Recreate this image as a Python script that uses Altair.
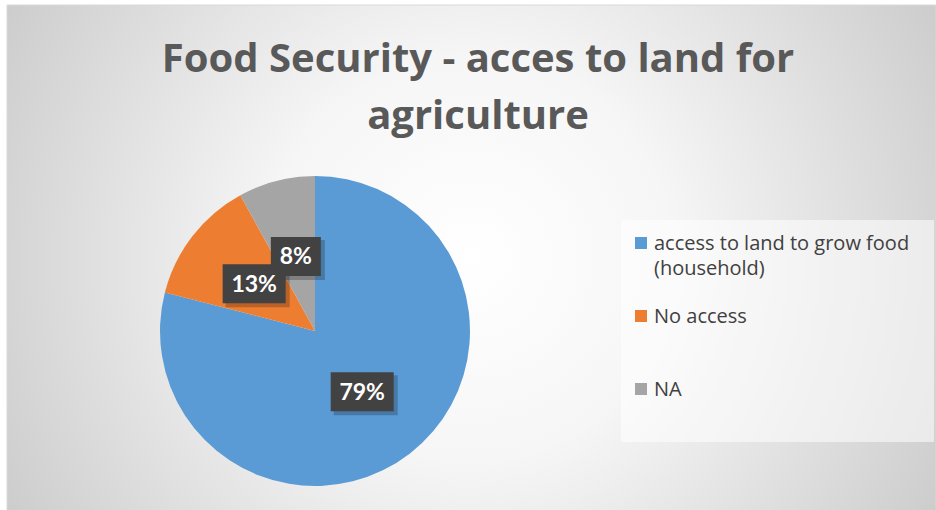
import altair as alt
import pandas as pd

# ---- data ----
categories = ["access to land to grow food (household)", "No access", "NA"]
legend_labels = ["access to land to grow food\n(household)", "No access", "NA"]
shares = [79, 13, 8]
pct_labels = ["79%", "13%", "8%"]
colors = ["#5B9BD5", "#ED7D31", "#A5A5A5"]
title_lines = ["Food Security - acces to land for", "agriculture"]

# ---- layout constants ----
W, H = 936, 510
CX, CY, R = 315, 331, 155
LR = 77  # label radius
FONT = "Lato"
TFONT = "Open Sans"

df = pd.DataFrame({
    "category": categories,
    "legend": legend_labels,
    "share": shares,
    "label": pct_labels,
    "order": list(range(len(categories))),
})
title_df = pd.DataFrame({"line": title_lines, "row": list(range(len(title_lines)))})
dummy = pd.DataFrame({"a": [0]})

color_scale = alt.Scale(domain=categories, range=colors)

# background with radial gradient
bg = alt.Chart(dummy).mark_rect(
    color=alt.Gradient(
        gradient="radial",
        stops=[alt.GradientStop(color="#ffffff", offset=0),
               alt.GradientStop(color="#f6f6f6", offset=0.3),
               alt.GradientStop(color="#bbbbbb", offset=1)],
        x1=0.5, y1=0.5, x2=0.5, y2=0.5, r1=0, r2=0.72,
    ),
    stroke="#d9d9d9", strokeWidth=1,
).encode(x=alt.value(7), x2=alt.value(936), y=alt.value(5), y2=alt.value(512))

pie = alt.Chart(df).mark_arc(stroke=None).encode(
    theta=alt.Theta("share:Q", stack=True),
    color=alt.Color("category:N", scale=color_scale, legend=None),
    order=alt.Order("order:Q"),
    x=alt.value(CX), y=alt.value(CY), radius=alt.value(R),
)

lab = alt.Chart(df).transform_joinaggregate(
    total="sum(share)"
).transform_window(
    cum="sum(share)", sort=[alt.SortField("order")], frame=[None, 0]
).transform_calculate(
    mid="(datum.cum - datum.share/2) / datum.total * 2 * PI",
).transform_calculate(
    bx=f"{CX} + {LR} * sin(datum.mid)",
    by=f"{CY} - {LR} * cos(datum.mid)",
    bw="13 * length(datum.label) + 24",
).transform_calculate(
    bx1="datum.bx - datum.bw / 2",
    bx2="datum.bx + datum.bw / 2",
    by1="datum.by - 19.5",
    by2="datum.by + 19.5",
    sx1="datum.bx - datum.bw / 2 + 3",
    sx2="datum.bx + datum.bw / 2 + 4",
    sy1="datum.by - 19.5 + 3",
    sy2="datum.by + 19.5 + 4",
)

shadow = lab.mark_rect(color="#000000", opacity=0.22).encode(
    x=alt.X("sx1:Q", scale=None, axis=None), x2="sx2:Q",
    y=alt.Y("sy1:Q", scale=None, axis=None), y2="sy2:Q",
    order=alt.Order("share:Q"),
)
boxes = lab.mark_rect(color="#424242").encode(
    x=alt.X("bx1:Q", scale=None, axis=None), x2="bx2:Q",
    y=alt.Y("by1:Q", scale=None, axis=None), y2="by2:Q",
    order=alt.Order("share:Q"),
)
texts = lab.mark_text(font=FONT, fontSize=23, fontWeight="bold", color="white",
                      align="center", baseline="middle", dy=1).encode(
    x=alt.X("bx:Q", scale=None, axis=None),
    y=alt.Y("by:Q", scale=None, axis=None),
    text="label:N",
)

title = alt.Chart(title_df).transform_calculate(
    ty="72 + datum.row * 57"
).mark_text(font=TFONT, fontSize=40, fontWeight="bold", color="#595959",
            align="center", baseline="alphabetic").encode(
    x=alt.value(478),
    y=alt.Y("ty:Q", scale=None, axis=None),
    text="line:N",
)

legend_box = alt.Chart(dummy).mark_rect(color="#ffffff", opacity=0.55).encode(
    x=alt.value(621), x2=alt.value(934), y=alt.value(220), y2=alt.value(442)
)

leg = alt.Chart(df).transform_calculate(ly="243 + datum.order * 73")
leg_sq = leg.mark_square(size=144, opacity=1, filled=True).encode(
    x=alt.value(641),
    y=alt.Y("ly:Q", scale=None, axis=None),
    color=alt.Color("category:N", scale=color_scale, legend=None),
)
leg_txt = leg.transform_calculate(lt="datum.ly + 7").mark_text(
    font=TFONT, fontSize=20, color="#404040", align="left", baseline="alphabetic",
    lineBreak="\n", lineHeight=25,
).encode(
    x=alt.value(654),
    y=alt.Y("lt:Q", scale=None, axis=None),
    text="legend:N",
)

chart = alt.layer(bg, pie, shadow, boxes, texts, title, legend_box, leg_sq, leg_txt).properties(
    width=W, height=H, autosize=alt.AutoSizeParams(type="none"), padding=0,
    background="white",
).configure_view(stroke=None)

chart.save("out.html", embed_options={"renderer": "svg", "actions": False})
